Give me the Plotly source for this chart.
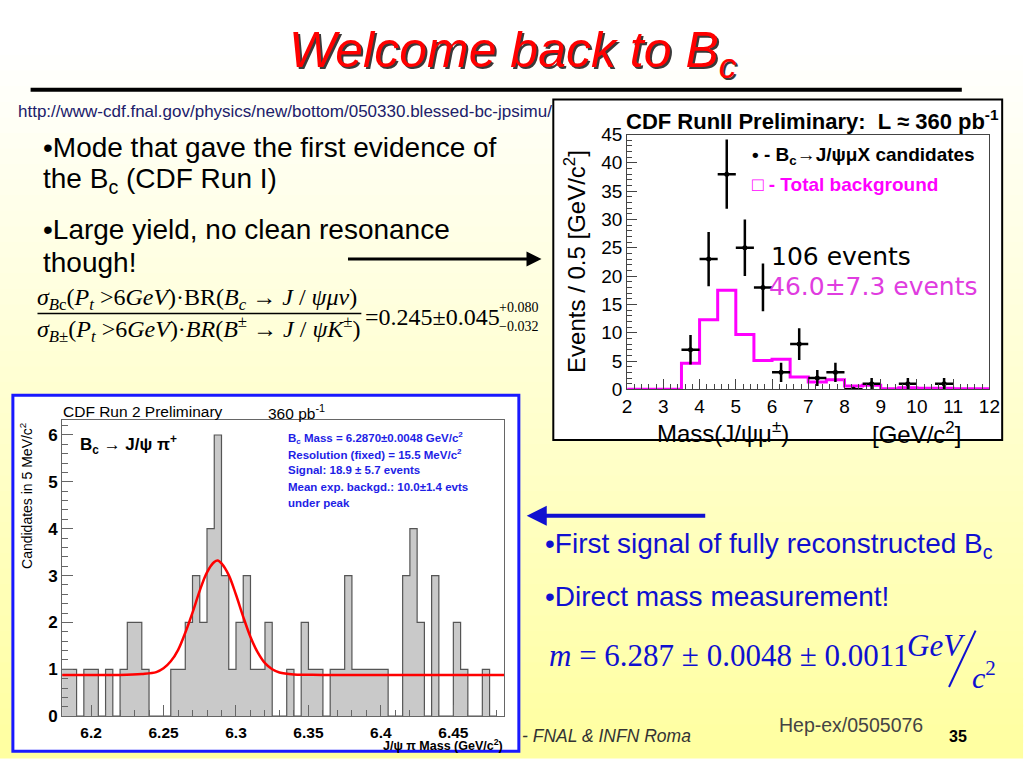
import plotly.graph_objects as go

# ---------------- data: top-right chart (CDF RunII J/psi mu) ----------------
mu_centers = [3.75, 4.25, 4.75, 5.25, 5.75, 6.25, 6.75, 7.25, 7.75, 8.25, 8.75, 9.75, 10.75]
mu_counts = [7, 23, 38, 25, 18, 3, 8, 2, 3, 0, 1, 1, 1]
mu_errors = [2.6, 4.8, 6.1, 5.0, 4.2, 1.7, 2.8, 1.4, 1.7, 0, 1.0, 1.0, 1.0]
bkg_edges = [2, 3.5, 4, 4.5, 5, 5.5, 6, 6.5, 7, 7.5, 8, 8.5, 9, 9.5, 10, 10.5, 11, 11.5, 12]
bkg_values = [0, 4.6, 12.3, 17.5, 9.7, 5.1, 5.3, 2.2, 1.3, 1.7, 0.6, 0.7, 0.1, 0.3, 0.2, 0.2, 0.1, 0.1]

# ---------------- data: bottom-left chart (J/psi pi mass, 5 MeV bins) ----------------
pi_bin_start = 6.18
pi_bin_width = 0.005
pi_counts = [1, 1, 0, 1, 1, 0, 1, 0, 1, 2, 2, 1, 0, 0, 0, 1, 1, 2, 3, 2,
             4, 6, 3, 1, 2, 3, 1, 1, 2, 0, 0, 1, 0, 2, 1, 1, 0, 1, 1, 3,
             1, 1, 1, 1, 1, 0, 0, 3, 4, 2, 0, 3, 0, 0, 2, 1, 0, 0, 1, 0, 0]
fit_x = [6.18, 6.22, 6.235, 6.245, 6.25, 6.255, 6.26, 6.265, 6.27, 6.275, 6.28, 6.285,
         6.2875, 6.29, 6.295, 6.30, 6.305, 6.31, 6.315, 6.32, 6.325, 6.33, 6.34, 6.36, 6.485]
fit_y = [0.88, 0.88, 0.90, 0.94, 1.02, 1.17, 1.41, 1.78, 2.21, 2.68, 3.07, 3.29,
         3.32, 3.26, 3.01, 2.59, 2.12, 1.69, 1.36, 1.13, 1.00, 0.93, 0.89, 0.88, 0.88]
pi_tickvals = [6.2, 6.25, 6.3, 6.35, 6.4, 6.45]
pi_ticktext = ["6.2", "6.25", "6.3", "6.35", "6.4", "6.45"]

W, H = 1024, 768
def X(px):
    return px / W
def Y(py):
    return 1 - py / H

SANS = "Liberation Sans"
SERIF = "Liberation Serif"

fig = go.Figure()

# top-right chart
fig.add_trace(go.Scatter(
    x=bkg_edges, y=bkg_values + [bkg_values[-1]], mode="lines",
    line=dict(shape="hv", color="#ff00ff", width=3),
    xaxis="x", yaxis="y", showlegend=False, hoverinfo="skip"))
fig.add_trace(go.Scatter(
    x=mu_centers, y=mu_counts, mode="markers",
    marker=dict(color="black", size=5),
    error_x=dict(type="constant", value=0.25, color="black", thickness=2.5, width=0),
    error_y=dict(type="data", array=mu_errors, color="black", thickness=2.5, width=0),
    xaxis="x", yaxis="y", showlegend=False))

# bottom-left chart
fig.add_trace(go.Scatter(
    x0=pi_bin_start, dx=pi_bin_width, y=pi_counts, mode="lines",
    line=dict(shape="hv", color="#555555", width=1.2),
    fill="tozeroy", fillcolor="#c9c9c9",
    xaxis="x2", yaxis="y2", showlegend=False, hoverinfo="skip"))
fig.add_trace(go.Scatter(
    x=fit_x, y=fit_y, mode="lines",
    line=dict(shape="spline", color="#ff0000", width=2.5),
    xaxis="x2", yaxis="y2", showlegend=False))

shapes = []
# slide background: white at the top fading to pale yellow
n = 48
for i in range(n):
    y0 = i * H / n
    y1 = (i + 1) * H / n
    t = max(0.0, min(1.0, ((y0 + y1) / 2 - 40) / (H - 40)))
    b = int(round(255 - 95 * t))
    shapes.append(dict(type="rect", xref="paper", yref="paper", layer="below",
                       x0=-0.01, x1=1.01, y0=Y(y1) - 0.002, y1=Y(y0) + 0.002,
                       line=dict(width=0), fillcolor=f"rgb(255,255,{b})"))
# panels
shapes.append(dict(type="rect", xref="paper", yref="paper", layer="below",
                   x0=X(557), x1=X(1013), y0=Y(442), y1=Y(92),
                   line=dict(color="black", width=2), fillcolor="white"))
shapes.append(dict(type="rect", xref="paper", yref="paper", layer="below",
                   x0=X(8), x1=X(522), y0=Y(762), y1=Y(396),
                   line=dict(color="#1a1aff", width=3), fillcolor="white"))
# title rule
shapes.append(dict(type="line", xref="paper", yref="paper",
                   x0=X(26), x1=X(972), y0=Y(82), y1=Y(82),
                   line=dict(color="black", width=4)))
# fraction bar
shapes.append(dict(type="line", xref="paper", yref="paper",
                   x0=X(33), x1=X(362), y0=Y(312), y1=Y(312),
                   line=dict(color="black", width=1.5)))
# slash of GeV/c^2
shapes.append(dict(type="line", xref="paper", yref="paper",
                   x0=X(959), x1=X(986), y0=Y(696), y1=Y(638),
                   line=dict(color="#1010d0", width=2)))

ann = []
def text(px, py, s, size, color="black", family=SANS, xanchor="left", yanchor="middle",
         angle=0, weight="normal"):
    ann.append(dict(x=X(px), y=Y(py), xref="paper", yref="paper", text=s, showarrow=False,
                    xanchor=xanchor, yanchor=yanchor, textangle=angle,
                    font=dict(size=size, color=color, family=family, weight=weight)))

# title with shadow
text(518, 47, "<i>Welcome back to B<sub>c</sub></i>", 50, "#3a3a3a", xanchor="center")
text(516, 45, "<i>Welcome back to B<sub>c</sub></i>", 50, "#ff0000", xanchor="center")

text(11, 104, "http://www-cdf.fnal.gov/physics/new/bottom/050330.blessed-bc-jpsimu/", 17, "#20206a")
text(37, 141, "•Mode that gave the first evidence of", 28)
text(37, 175, "the B<sub>c</sub> (CDF Run I)", 28)
text(37, 226, "•Large yield, no clean resonance", 28)
text(37, 260, "though!", 28)

# ratio formula
text(30, 297, "<i>σ</i><sub><i>B</i>c</sub>(<i>P</i><sub><i>t</i></sub> >6<i>GeV</i>)·BR(<i>B</i><sub><i>c</i></sub> → <i>J</i> / <i>ψμν</i>)", 24, family=SERIF)
text(30, 328, "<i>σ</i><sub><i>B</i>±</sub>(<i>P</i><sub><i>t</i></sub> >6<i>GeV</i>)·<i>BR</i>(<i>B</i><sup>±</sup> → <i>J</i> / <i>ψK</i><sup>±</sup>)", 24, family=SERIF)
text(364, 316, "=0.245±0.045", 24, family=SERIF)
text(500, 306, "+0.080", 14, family=SERIF)
text(500, 325, "−0.032", 14, family=SERIF)

# bottom-right texts
text(547, 551, "•First signal of fully reconstructed B<sub>c</sub>", 28, "#1010d0")
text(547, 603, "•Direct mass measurement!", 28, "#1010d0")
text(551, 664, "<i>m</i> = 6.287 ± 0.0048 ± 0.0011", 31, "#1010d0", family=SERIF)
text(914, 653, "<i>GeV</i>", 31, "#1010d0", family=SERIF)
text(980, 684, "<i>c</i><sup>2</sup>", 30, "#1010d0", family=SERIF)

# footer
text(523, 746, "<i>- FNAL &amp; INFN Roma</i>", 17.5, "#333333")
text(784, 735, "Hep-ex/0505076", 19.5, "#444444")
text(957, 747, "35", 16, "black", weight="bold")

# top-right chart texts
text(629, 113, "CDF RunII Preliminary:  L ≈ 360 pb<sup>-1</sup>", 22, weight="bold")
text(757, 150, "• - B<sub>c</sub>→J/ψμX candidates", 19, weight="bold")
text(757, 179, "□ - Total background", 19, "#ff00ff", weight="bold")
text(776, 253, "106 events", 25, family="DejaVu Sans")
text(774, 284, "46.0±7.3 events", 25, "#e03ce0", family="DejaVu Sans")
text(579, 258, "Events / 0.5 [GeV/c<sup>2</sup>]", 24, angle=-90, xanchor="center")
text(729, 434, "Mass(J/ψμ<sup>±</sup>)", 24, xanchor="center")
text(926, 435, "[GeV/c<sup>2</sup>]", 24, xanchor="center")

# bottom-left chart texts
text(57, 413, "CDF Run 2 Preliminary", 15.5)
text(265, 413, "360 pb<sup>-1</sup>", 15.5)
text(74, 447, "B<sub>c</sub> → J/ψ π<sup>+</sup>", 17, weight="bold")
blue_lines = ["B<sub>c</sub> Mass = 6.2870±0.0048 GeV/c<sup>2</sup>",
              "Resolution (fixed) = 15.5 MeV/c<sup>2</sup>",
              "Signal: 18.9 ± 5.7 events",
              "Mean exp. backgd.: 10.0±1.4 evts",
              "under peak"]
for k, s in enumerate(blue_lines):
    text(285, 440 + 16.7 * k, s, 11.5, "#1e1ee6", weight="bold")
text(22, 500, "Candidates in 5 MeV/c<sup>2</sup>", 14, angle=-90, xanchor="center")
text(508, 756, "J/ψ π Mass (GeV/c<sup>2</sup>)", 12.5, xanchor="right", weight="bold")

# arrows
ann.append(dict(x=X(545), y=Y(256), xref="paper", yref="paper", ax=-195, ay=0,
                showarrow=True, arrowhead=2, arrowsize=1, arrowwidth=3, arrowcolor="black", text=""))
ann.append(dict(x=X(530), y=Y(520), xref="paper", yref="paper", ax=180, ay=0,
                showarrow=True, arrowhead=2, arrowsize=1, arrowwidth=4, arrowcolor="#1010d0", text=""))

axis_common = dict(showgrid=False, zeroline=False, showline=True, mirror=True, ticks="inside")

fig.update_layout(
    width=W, height=H, margin=dict(l=0, r=0, t=0, b=0),
    paper_bgcolor="white", plot_bgcolor="rgba(0,0,0,0)",
    shapes=shapes, annotations=ann, showlegend=False,
    xaxis=dict(domain=[X(632), X(1000)], range=[2, 12], dtick=1, anchor="y",
               linecolor="#444", linewidth=1, ticklen=10, tickcolor="#444",
               minor=dict(dtick=0.2, ticks="inside", ticklen=5, tickcolor="#444"),
               tickfont=dict(family=SANS, size=19, color="black"), **axis_common),
    yaxis=dict(domain=[Y(390), Y(128)], range=[0, 45], dtick=5, anchor="x",
               linecolor="#444", linewidth=1, ticklen=10, tickcolor="#444",
               minor=dict(dtick=1, ticks="inside", ticklen=5, tickcolor="#444"),
               tickfont=dict(family=SANS, size=19, color="black"), **axis_common),
    xaxis2=dict(domain=[X(58), X(507)], range=[6.18, 6.485], anchor="y2",
                tickvals=pi_tickvals, ticktext=pi_ticktext, ticklabelstandoff=2,
                linecolor="#666", linewidth=1, ticklen=11, tickcolor="#666",
                minor=dict(dtick=0.01, ticks="inside", ticklen=6, tickcolor="#666"),
                tickfont=dict(family=SANS, size=15.5, color="black", weight="bold"), **axis_common),
    yaxis2=dict(domain=[Y(726), Y(422)], range=[0, 6.31], dtick=1, anchor="x2",
                linecolor="#666", linewidth=1, ticklen=11, tickcolor="#666",
                minor=dict(dtick=0.2, ticks="inside", ticklen=6, tickcolor="#666"),
                tickfont=dict(family=SANS, size=17, color="black", weight="bold"), **axis_common),
)

fig.write_html("out.html", config={"displayModeBar": False},
               post_script="document.body.style.margin='0';document.body.style.overflow='hidden';")
